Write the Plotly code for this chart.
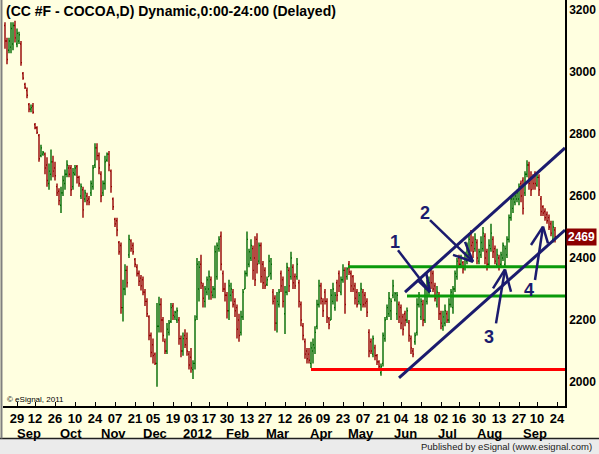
import pandas as pd
import plotly.graph_objects as go

# trading calendar (ICE cocoa, weekends + exchange holidays skipped)
holidays = ["2011-09-05", "2011-11-24", "2011-12-26", "2012-01-02", "2012-01-16",
            "2012-02-20", "2012-04-06", "2012-05-28", "2012-07-04", "2012-09-03"]
sessions = [d.strftime("%Y-%m-%d") for d in pd.bdate_range("2011-08-19", "2012-09-28")
            if d.strftime("%Y-%m-%d") not in holidays]

tick_dates = ["2011-08-29", "2011-09-12", "2011-09-26", "2011-10-10", "2011-10-24",
              "2011-11-07", "2011-11-21", "2011-12-05", "2011-12-19", "2012-01-03",
              "2012-01-17", "2012-01-30", "2012-02-13", "2012-02-27", "2012-03-12",
              "2012-03-26", "2012-04-09", "2012-04-23", "2012-05-07", "2012-05-21",
              "2012-06-04", "2012-06-18", "2012-07-02", "2012-07-16", "2012-07-30",
              "2012-08-13", "2012-08-27", "2012-09-10", "2012-09-24"]
tick_text = ["29", "12", "26", "10", "24", "07", "21", "05", "19", "03", "17", "30", "13", "27",
             "12", "26", "09", "23", "07", "21", "04", "18", "02", "16", "30", "13", "27", "10", "24"]

month_names = ["Sep", "Oct", "Nov", "Dec", "2012", "Feb", "Mar", "Apr", "May", "Jun", "Jul", "Aug", "Sep"]
month_starts = ["2011-09-01", "2011-10-03", "2011-11-01", "2011-12-01", "2012-01-03", "2012-02-01",
                "2012-03-01", "2012-04-02", "2012-05-01", "2012-06-01", "2012-07-02", "2012-08-01",
                "2012-09-04"]

# daily OHLC, CC #F cocoa
opens = [3150, 3100, 3070, 3080, 3090, 3150, 3090, 3100, 3090, 2995,
         2960, 2940, 2895, 2880, 2890, 2830, 2820, 2795, 2730, 2735,
         2735, 2700, 2640, 2670, 2710, 2690, 2630, 2615, 2570, 2610,
         2640, 2670, 2690, 2690, 2630, 2670, 2695, 2660, 2600, 2620,
         2590, 2600, 2590, 2610, 2630, 2700, 2755, 2730, 2670, 2610,
         2640, 2715, 2735, 2680, 2590, 2525, 2520, 2450, 2440, 2240,
         2300, 2360, 2410, 2455, 2440, 2395, 2370, 2350, 2335, 2330,
         2290, 2260, 2210, 2150, 2120, 2090, 2060, 2180, 2250, 2200,
         2130, 2100, 2160, 2195, 2245, 2210, 2200, 2200, 2140, 2100,
         2150, 2140, 2090, 2080, 2040, 2060, 2210, 2300, 2380, 2310,
         2260, 2290, 2300, 2330, 2280, 2300, 2340, 2430, 2470, 2350,
         2300, 2280, 2230, 2280, 2290, 2260, 2240, 2200, 2160, 2210,
         2300, 2350, 2380, 2400, 2430, 2400, 2460, 2390, 2440, 2380,
         2360, 2315, 2340, 2350, 2290, 2270, 2190, 2250, 2350, 2330,
         2220, 2290, 2360, 2340, 2370, 2340, 2340, 2320, 2250, 2180,
         2130, 2100, 2090, 2060, 2100, 2110, 2180, 2250, 2310, 2260,
         2290, 2260, 2205, 2200, 2260, 2240, 2320, 2350, 2290, 2330,
         2360, 2340, 2380, 2350, 2340, 2310, 2290, 2260, 2250, 2290,
         2280, 2260, 2160, 2130, 2090, 2110, 2085, 2065, 2030, 2060,
         2140, 2210, 2220, 2230, 2280, 2265, 2220, 2250, 2240, 2210,
         2220, 2200, 2190, 2140, 2100, 2130, 2160, 2250, 2210, 2250,
         2200, 2260, 2290, 2360, 2350, 2310, 2250, 2280, 2220, 2180,
         2190, 2220, 2200, 2250, 2240, 2300, 2340, 2400, 2380, 2385,
         2370, 2390, 2410, 2480, 2450, 2430, 2450, 2390, 2410, 2430,
         2470, 2420, 2380, 2430, 2460, 2430, 2380, 2400, 2380, 2400,
         2380, 2410, 2460, 2530, 2560, 2580, 2590, 2590, 2640, 2650,
         2610, 2670, 2700, 2660, 2660, 2670, 2635, 2660, 2590, 2565,
         2550, 2540, 2530, 2510, 2460, 2490]
highs = [3160, 3110, 3110, 3160, 3160, 3165, 3140, 3130, 3100, 3000,
         2965, 2950, 2900, 2895, 2900, 2835, 2825, 2800, 2765, 2745,
         2740, 2725, 2705, 2750, 2730, 2710, 2640, 2625, 2630, 2665,
         2685, 2715, 2700, 2700, 2690, 2700, 2700, 2665, 2640, 2630,
         2620, 2610, 2600, 2650, 2700, 2770, 2770, 2740, 2680, 2650,
         2730, 2740, 2745, 2685, 2595, 2530, 2530, 2455, 2450, 2330,
         2380, 2375, 2475, 2460, 2450, 2400, 2380, 2360, 2345, 2340,
         2300, 2270, 2215, 2160, 2140, 2095, 2255, 2275, 2270, 2210,
         2140, 2190, 2200, 2255, 2255, 2230, 2240, 2210, 2150, 2160,
         2170, 2160, 2100, 2110, 2070, 2215, 2400, 2390, 2410, 2320,
         2310, 2340, 2360, 2340, 2310, 2440, 2450, 2470, 2485, 2360,
         2320, 2290, 2330, 2320, 2300, 2270, 2250, 2220, 2230, 2300,
         2360, 2485, 2430, 2460, 2440, 2470, 2480, 2450, 2450, 2390,
         2370, 2340, 2410, 2400, 2300, 2280, 2290, 2300, 2360, 2340,
         2310, 2385, 2370, 2420, 2380, 2350, 2400, 2330, 2260, 2190,
         2140, 2110, 2110, 2130, 2140, 2180, 2265, 2330, 2320, 2270,
         2300, 2270, 2210, 2300, 2320, 2290, 2330, 2360, 2340, 2380,
         2370, 2370, 2390, 2360, 2345, 2320, 2300, 2290, 2320, 2300,
         2290, 2270, 2170, 2140, 2150, 2120, 2090, 2070, 2060, 2160,
         2210, 2250, 2290, 2270, 2330, 2290, 2290, 2260, 2250, 2220,
         2230, 2240, 2200, 2150, 2110, 2160, 2270, 2290, 2270, 2265,
         2310, 2330, 2340, 2370, 2360, 2320, 2310, 2290, 2230, 2230,
         2250, 2230, 2270, 2300, 2310, 2360, 2400, 2410, 2410, 2390,
         2420, 2450, 2480, 2490, 2470, 2480, 2460, 2430, 2470, 2500,
         2480, 2430, 2460, 2510, 2470, 2440, 2430, 2410, 2420, 2450,
         2440, 2470, 2540, 2600, 2600, 2610, 2620, 2640, 2650, 2660,
         2680, 2715, 2710, 2680, 2670, 2680, 2670, 2670, 2600, 2570,
         2560, 2550, 2540, 2520, 2520, 2500]
lows = [3075, 3025, 3060, 3060, 3070, 3095, 3080, 3090, 3020, 2975,
        2945, 2915, 2870, 2870, 2865, 2815, 2800, 2710, 2725, 2730,
        2670, 2630, 2620, 2650, 2660, 2650, 2600, 2570, 2545, 2600,
        2620, 2660, 2660, 2600, 2620, 2665, 2640, 2630, 2590, 2530,
        2580, 2570, 2570, 2600, 2620, 2690, 2715, 2670, 2580, 2600,
        2620, 2710, 2680, 2610, 2555, 2500, 2470, 2410, 2220, 2195,
        2280, 2305, 2400, 2420, 2410, 2370, 2340, 2310, 2295, 2280,
        2245, 2210, 2135, 2080, 2060, 2055, 1985, 2160, 2160, 2130,
        2090, 2090, 2150, 2190, 2200, 2200, 2190, 2120, 2080, 2085,
        2110, 2085, 2040, 2030, 2010, 2040, 2200, 2260, 2300, 2240,
        2240, 2280, 2265, 2265, 2270, 2270, 2330, 2420, 2360, 2290,
        2260, 2205, 2200, 2260, 2240, 2210, 2140, 2130, 2150, 2200,
        2300, 2340, 2370, 2390, 2330, 2310, 2350, 2380, 2320, 2300,
        2300, 2310, 2340, 2330, 2250, 2165, 2160, 2240, 2290, 2240,
        2155, 2280, 2290, 2330, 2300, 2300, 2330, 2240, 2180, 2135,
        2075, 2060, 2060, 2045, 2060, 2090, 2170, 2240, 2250, 2210,
        2250, 2190, 2170, 2200, 2250, 2230, 2260, 2290, 2280, 2320,
        2220, 2330, 2345, 2290, 2290, 2250, 2240, 2250, 2230, 2240,
        2240, 2210, 2080, 2090, 2080, 2070, 2055, 2040, 2020, 2050,
        2130, 2200, 2210, 2200, 2270, 2260, 2200, 2190, 2170, 2150,
        2180, 2190, 2130, 2090, 2080, 2120, 2150, 2240, 2200, 2180,
        2190, 2250, 2280, 2300, 2290, 2260, 2240, 2200, 2170, 2165,
        2180, 2190, 2190, 2240, 2220, 2290, 2330, 2370, 2370, 2350,
        2360, 2380, 2400, 2420, 2400, 2420, 2380, 2380, 2400, 2420,
        2380, 2360, 2370, 2420, 2400, 2380, 2370, 2360, 2370, 2390,
        2370, 2400, 2450, 2520, 2545, 2570, 2580, 2570, 2580, 2540,
        2600, 2660, 2620, 2600, 2620, 2620, 2630, 2600, 2535, 2535,
        2520, 2510, 2490, 2470, 2450, 2450]
closes = [3100, 3040, 3100, 3140, 3150, 3110, 3125, 3120, 3030, 2980,
          2950, 2925, 2880, 2885, 2870, 2820, 2805, 2720, 2755, 2740,
          2690, 2650, 2680, 2710, 2680, 2665, 2610, 2585, 2610, 2650,
          2670, 2700, 2670, 2620, 2675, 2690, 2660, 2640, 2630, 2555,
          2610, 2585, 2580, 2640, 2690, 2755, 2730, 2690, 2600, 2640,
          2710, 2735, 2700, 2630, 2565, 2510, 2490, 2420, 2240, 2300,
          2360, 2320, 2460, 2430, 2420, 2380, 2350, 2325, 2310, 2290,
          2260, 2220, 2150, 2095, 2085, 2060, 2180, 2250, 2200, 2150,
          2100, 2170, 2190, 2240, 2215, 2225, 2230, 2140, 2100, 2140,
          2120, 2100, 2055, 2045, 2060, 2200, 2380, 2370, 2320, 2270,
          2300, 2330, 2340, 2290, 2300, 2420, 2440, 2460, 2380, 2300,
          2280, 2230, 2310, 2300, 2250, 2230, 2170, 2150, 2210, 2290,
          2350, 2460, 2420, 2440, 2360, 2330, 2380, 2440, 2340, 2320,
          2310, 2330, 2390, 2380, 2260, 2190, 2260, 2290, 2310, 2260,
          2290, 2370, 2310, 2400, 2320, 2310, 2380, 2260, 2200, 2150,
          2090, 2075, 2070, 2110, 2120, 2160, 2250, 2310, 2270, 2230,
          2260, 2210, 2185, 2280, 2300, 2280, 2280, 2310, 2330, 2360,
          2250, 2365, 2355, 2310, 2300, 2270, 2250, 2280, 2300, 2250,
          2255, 2225, 2100, 2100, 2140, 2085, 2065, 2050, 2050, 2150,
          2200, 2240, 2270, 2260, 2310, 2285, 2280, 2210, 2190, 2170,
          2200, 2230, 2150, 2110, 2090, 2150, 2250, 2280, 2260, 2200,
          2300, 2310, 2320, 2320, 2300, 2270, 2290, 2220, 2190, 2210,
          2230, 2200, 2250, 2290, 2300, 2350, 2390, 2380, 2400, 2365,
          2410, 2440, 2460, 2440, 2420, 2460, 2400, 2420, 2450, 2480,
          2400, 2380, 2440, 2480, 2420, 2390, 2410, 2370, 2410, 2440,
          2430, 2460, 2530, 2590, 2590, 2600, 2610, 2630, 2600, 2560,
          2670, 2700, 2640, 2620, 2640, 2640, 2660, 2620, 2550, 2545,
          2530, 2520, 2500, 2480, 2500, 2469]

# drawn levels and channel (analyst's markup)
support_green_hi = 2372
support_green_lo = 2277
support_red = 2040
channel_upper = [(200, 2290), (280, 2755)]
channel_lower = [(197, 2013), (280, 2490)]
arrow_labels = ["1", "2", "3", "4"]
label_pos = [(195, 2452), (210, 2545), (242, 2146), (262, 2297)]
arrow_tail = [(196.5, 2425), (212.5, 2522), (245.5, 2189), (265, 2329)]
arrow_tip = [(212.5, 2290), (234, 2388), (250, 2363), (269, 2501)]
arrow_head_a = [(206, 2330), (224, 2410), (244, 2302), (263, 2442)]
arrow_head_b = [(210.5, 2355), (230, 2452), (253, 2291), (271.5, 2447)]

n = len(closes)
idx = {d: i for i, d in enumerate(sessions)}
x = list(range(n))

NAVY = "#1B1B6E"
YELLOW = "#FFFFE0"
FONT = "Liberation Sans"

fig = go.Figure()
fig.add_trace(go.Ohlc(
    x=x, open=opens, high=highs, low=lows, close=closes,
    text=sessions[:n], hoverinfo="text+y",
    increasing=dict(line=dict(color="#006A00", width=1.4)),
    decreasing=dict(line=dict(color="#950000", width=1.4)),
    tickwidth=0.5, showlegend=False,
))

shapes = []
# horizontal support lines
shapes.append(dict(type="line", x0=171.5, x1=280, y0=support_green_hi, y1=support_green_hi,
                   line=dict(color="#0A9A0A", width=3)))
shapes.append(dict(type="line", x0=201, x1=280, y0=support_green_lo, y1=support_green_lo,
                   line=dict(color="#0A9A0A", width=3)))
shapes.append(dict(type="line", x0=153, x1=280, y0=support_red, y1=support_red,
                   line=dict(color="#FF0000", width=3)))
# channel
for (a, b) in [channel_upper, channel_lower]:
    shapes.append(dict(type="line", x0=a[0], y0=a[1], x1=b[0], y1=b[1],
                       line=dict(color=NAVY, width=3)))
# hand drawn arrows
for t, p, ha, hb in zip(arrow_tail, arrow_tip, arrow_head_a, arrow_head_b):
    for s in (t, ha, hb):
        shapes.append(dict(type="line", x0=s[0], y0=s[1], x1=p[0], y1=p[1],
                           line=dict(color=NAVY, width=2.5)))

# bottom status bar
shapes.append(dict(type="rect", xref="paper", yref="paper", x0=-0.02, x1=1.1,
                   y0=-0.13, y1=-0.0801, fillcolor="#EBEBEB", line=dict(width=0), layer="above"))
shapes.append(dict(type="line", xref="paper", yref="paper", x0=-0.02, x1=1.1,
                   y0=-0.0801, y1=-0.0801, line=dict(color="#202020", width=1.5)))
# left frame
shapes.append(dict(type="line", xref="paper", yref="paper", x0=-0.0027, x1=-0.0027,
                   y0=-0.0801, y1=1.01, line=dict(color="#808080", width=2)))

annotations = []
for lab, (lx, ly) in zip(arrow_labels, label_pos):
    annotations.append(dict(x=lx, y=ly, text="<b>%s</b>" % lab, showarrow=False,
                            font=dict(family=FONT, size=18, color=NAVY)))
for name, d in zip(month_names, month_starts):
    annotations.append(dict(x=idx[d] + 3, y=0, yref="paper", yanchor="top", yshift=-18,
                            text="<b>%s</b>" % name, showarrow=False,
                            font=dict(family=FONT, size=13, color="black")))
annotations.append(dict(x=0.0018, y=1, xref="paper", yref="paper", xanchor="left", yanchor="top",
                        yshift=-1, text="<b>(CC #F - COCOA,D) Dynamic,0:00-24:00 (Delayed)</b>",
                        showarrow=False, font=dict(family=FONT, size=14, color="black")))
annotations.append(dict(x=0.0036, y=0.0172, xref="paper", yref="paper", xanchor="left",
                        yanchor="middle", text="© eSignal, 2011", showarrow=False,
                        font=dict(family=FONT, size=8, color="black")))
annotations.append(dict(x=1.0516, y=-0.0998, xref="paper", yref="paper", xanchor="right",
                        yanchor="middle", text="Published by eSignal (www.esignal.com)",
                        showarrow=False, font=dict(family=FONT, size=9.5, color="#202020")))
annotations.append(dict(x=1, y=closes[-1], xref="paper", yref="y", xanchor="left", yanchor="middle",
                        xshift=1, text="<b>%d</b>" % closes[-1], showarrow=False, bgcolor="#8B0000",
                        borderpad=1, font=dict(family=FONT, size=12, color="white")))

fig.update_layout(
    width=599, height=454,
    margin=dict(l=3, r=34, t=0, b=48),
    paper_bgcolor=YELLOW, plot_bgcolor=YELLOW,
    shapes=shapes, annotations=annotations,
    showlegend=False,
    xaxis=dict(
        range=[-1, 280], rangeslider=dict(visible=False),
        tickvals=[idx[d] for d in tick_dates], ticktext=tick_text,
        tickfont=dict(family=FONT, size=13, color="black", weight="bold"),
        showgrid=False, zeroline=False, showline=True, linecolor="black", linewidth=1.5,
        ticks="inside", ticklen=4, tickcolor="black",
    ),
    yaxis=dict(
        side="right", range=[1922.6, 3232], tickvals=list(range(2000, 3201, 200)),
        tickfont=dict(family=FONT, size=12, color="black", weight="bold"),
        showgrid=False, zeroline=False, showline=True, linecolor="black", linewidth=1.5,
        ticks="",
    ),
)

# page body has a default margin; drop it so the figure sits at the window's corner
fig.write_html("out.html", config={"displayModeBar": False},
               post_script="document.body.style.margin='0';")
